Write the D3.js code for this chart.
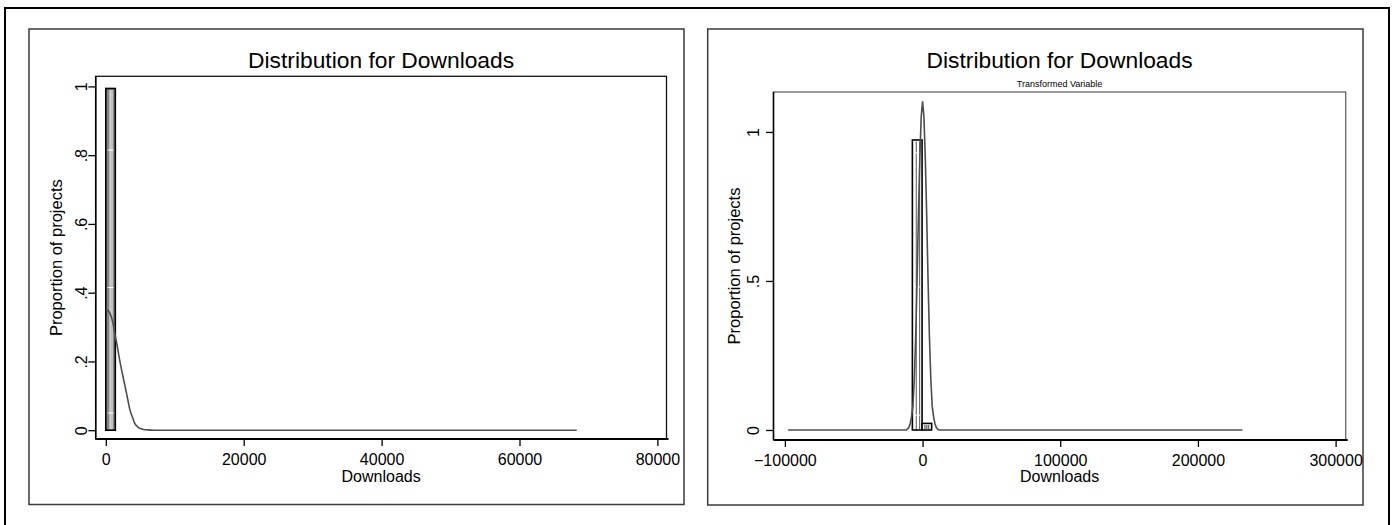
<!DOCTYPE html>
<html>
<head>
<meta charset="utf-8">
<script src="https://cdn.jsdelivr.net/npm/d3@7"></script>
<style>
  body { margin: 0; background: #fff; }
  svg { display: block; font-family: "Liberation Sans", Arial, sans-serif; }
  .axis path, .axis line { stroke: #000; }
  .axis text { font-size: 16px; fill: #000; }
</style>
</head>
<body>
<svg width="1396" height="525"></svg>
<script>
// ---- data ----
var title = "Distribution for Downloads";
var subtitleRight = "Transformed Variable";
var xLabel = "Downloads";
var yLabel = "Proportion of projects";

// left panel: raw downloads
var leftBinStart = [0];
var leftBinEnd = [1380];
var leftProp = [0.994];
var leftCurveX = [0, 300, 600, 1000, 1300, 1700, 2000, 2400, 2800, 3200, 3500, 3900, 4200, 4600, 5000, 5500, 6000, 7000, 68300];
var leftCurveY = [0.352, 0.349, 0.340, 0.315, 0.282, 0.240, 0.205, 0.165, 0.127, 0.088, 0.059, 0.036, 0.020, 0.010, 0.005, 0.002, 0.001, 0, 0];
var leftXTicks = [0, 20000, 40000, 60000, 80000];
var leftYTicks = [0, 0.2, 0.4, 0.6, 0.8, 1];

// right panel: transformed variable
var rightBinStart = [-7400, -360];
var rightBinEnd = [-360, 6600];
var rightProp = [0.973, 0.022];
var rightCurveX = [-97600, -12000, -11000, -10000, -9000, -8000, -7000, -6000, -5000, -4000, -3000, -2000, -1000, 0,
                   1000, 2000, 3000, 4000, 5000, 6000, 7000, 8000, 9000, 10000, 11000, 12000, 232300];
var rightCurveY = [0, 0, 0.003, 0.008, 0.021, 0.045, 0.08, 0.17, 0.31, 0.50, 0.72, 0.91, 1.05, 1.103,
                   1.05, 0.91, 0.72, 0.50, 0.31, 0.17, 0.08, 0.045, 0.021, 0.008, 0.003, 0, 0];
var rightXTicks = [-100000, 0, 100000, 200000, 300000];
var rightYTicks = [0, 0.5, 1];

var svg = d3.select("svg");

svg.append("rect").attr("width", 1396).attr("height", 525).attr("fill", "#fff");

// outer frame (open at the bottom)
svg.append("path")
  .attr("d", "M5,530 V8 H1389 V530")
  .attr("fill", "none").attr("stroke", "#000").attr("stroke-width", 2);

function fmtY(d) {
  if (d === 0) return "0";
  if (d === 1) return "1";
  return String(d).replace(/^0/, "");
}

function drawPanel(o) {
  var g = svg.append("g");

  // panel box
  g.append("rect")
    .attr("x", o.box[0]).attr("y", o.box[1])
    .attr("width", o.box[2] - o.box[0]).attr("height", o.box[3] - o.box[1])
    .attr("fill", "none").attr("stroke", "#3a3a3a").attr("stroke-width", 1.5);

  var x = d3.scaleLinear().domain(o.xDomain).range([o.plot[0], o.plot[2]]);
  var y = d3.scaleLinear().domain(o.yDomain).range([o.plot[3], o.plot[1]]);
  var cx = (o.plot[0] + o.plot[2]) / 2;

  // plot region outline
  g.append("rect")
    .attr("x", o.plot[0]).attr("y", o.plot[1])
    .attr("width", o.plot[2] - o.plot[0]).attr("height", o.plot[3] - o.plot[1])
    .attr("fill", "none").attr("stroke", o.frameColor).attr("stroke-width", 1.3);

  // bars
  var bins = o.binStart.map(function(s, i) { return { x0: s, x1: o.binEnd[i], p: o.prop[i] }; });
  var bar = g.selectAll(".bar").data(bins).enter().append("g").attr("class", "bar");
  bar.append("rect")
    .attr("x", function(d) { return x(d.x0); })
    .attr("y", function(d) { return y(d.p); })
    .attr("width", function(d) { return x(d.x1) - x(d.x0); })
    .attr("height", function(d) { return y(0) - y(d.p); })
    .attr("fill", o.barFill)
    .attr("stroke", "#000").attr("stroke-width", 1.6);
  // inner hatch lines of the bars
  bar.each(function(d) {
    var b = d3.select(this);
    var x0 = x(d.x0), x1 = x(d.x1), w = x1 - x0;
    var fr = d.p > 0.5 ? o.hatch : [0.3, 0.5, 0.7];
    fr.forEach(function(f) {
      b.append("line")
        .attr("x1", x0 + w * f).attr("x2", x0 + w * f)
        .attr("y1", y(d.p) + 1.5).attr("y2", y(0) - 1)
        .attr("stroke", d.p > 0.5 ? o.hatchColor : "#333").attr("stroke-width", 1);
    });
    if (d.p > 0.5) {
      o.dashes.forEach(function(v) {
        b.append("line")
          .attr("x1", x0 + w * 0.2).attr("x2", x0 + w * 0.8)
          .attr("y1", y(v)).attr("y2", y(v))
          .attr("stroke", "#fff").attr("stroke-width", 1);
      });
    }
  });

  // density curve
  var pts = o.curveX.map(function(v, i) { return [v, o.curveY[i]]; });
  g.append("path")
    .datum(pts)
    .attr("fill", "none")
    .attr("stroke", "#4d4d4d").attr("stroke-width", 1.6)
    .attr("d", d3.line()
      .x(function(d) { return x(d[0]); })
      .y(function(d) { return y(d[1]); })
      .curve(o.curve));

  // x axis
  var xa = g.append("g").attr("class", "axis")
    .attr("transform", "translate(0," + o.plot[3] + ")")
    .call(d3.axisBottom(x).tickValues(o.xTicks).tickFormat(d3.format("d")).tickSize(7).tickPadding(8).tickSizeOuter(0));
  xa.select(".domain").remove();
  xa.selectAll(".tick line").attr("stroke-width", 1.3);
  g.append("line")
    .attr("x1", o.plot[0]).attr("x2", o.plot[2] + 2)
    .attr("y1", o.plot[3]).attr("y2", o.plot[3])
    .attr("stroke", "#000").attr("stroke-width", 2.2);

  // y axis, rotated labels
  var ya = g.append("g").attr("class", "axis")
    .attr("transform", "translate(" + o.plot[0] + ",0)")
    .call(d3.axisLeft(y).tickValues(o.yTicks).tickFormat(fmtY).tickSize(o.yTickLen).tickSizeOuter(0));
  ya.select(".domain").remove();
  ya.selectAll(".tick line").attr("stroke-width", 1.3);
  ya.selectAll(".tick text")
    .attr("x", 0).attr("dy", null)
    .attr("y", -o.yLabelGap)
    .attr("text-anchor", "middle")
    .attr("transform", "rotate(-90)");
  g.append("line")
    .attr("x1", o.plot[0]).attr("x2", o.plot[0])
    .attr("y1", o.plot[1]).attr("y2", o.plot[3])
    .attr("stroke", "#000").attr("stroke-width", 1.5);

  // titles
  g.append("text")
    .attr("x", cx).attr("y", 68)
    .attr("text-anchor", "middle")
    .attr("font-size", 22.8)
    .text(title);
  if (o.subtitle) {
    g.append("text")
      .attr("x", cx).attr("y", 86.5)
      .attr("text-anchor", "middle")
      .attr("font-size", 9)
      .text(o.subtitle);
  }
  g.append("text")
    .attr("x", cx).attr("y", 481.5)
    .attr("text-anchor", "middle")
    .attr("font-size", 16)
    .text(xLabel);
  g.append("text")
    .attr("transform", "translate(" + o.yTitleX + "," + ((o.plot[1] + o.plot[3]) / 2) + ") rotate(-90)")
    .attr("text-anchor", "middle")
    .attr("font-size", 16.5)
    .text(yLabel);
}

drawPanel({
  box: [29, 29, 684, 504.5],
  plot: [95.7, 76.3, 666.5, 439],
  xDomain: [-1465, 81320],
  yDomain: [-0.0256, 1.0294],
  binStart: leftBinStart, binEnd: leftBinEnd, prop: leftProp,
  barFill: "#858585", hatch: [0.45, 0.65], hatchColor: "#fff",
  dashes: [0.815, 0.415, 0.05],
  curveX: leftCurveX, curveY: leftCurveY, curve: d3.curveMonotoneX,
  xTicks: leftXTicks, yTicks: leftYTicks,
  yTickLen: 7.4, yLabelGap: 8.5, yTitleX: 62,
  frameColor: "#111"
});

drawPanel({
  box: [707.7, 29, 1363, 505],
  plot: [773.5, 92, 1345.7, 440],
  xDomain: [-108270, 307330],
  yDomain: [-0.0336, 1.134],
  binStart: rightBinStart, binEnd: rightBinEnd, prop: rightProp,
  barFill: "#fff", hatch: [0.4, 0.75], hatchColor: "#555",
  dashes: [0.93, 0.48, 0.05],
  curveX: rightCurveX, curveY: rightCurveY, curve: d3.curveLinear,
  xTicks: rightXTicks, yTicks: rightYTicks,
  yTickLen: 7.4, yLabelGap: 14.5, yTitleX: 740,
  subtitle: subtitleRight,
  frameColor: "#666"
});
</script>
</body>
</html>
